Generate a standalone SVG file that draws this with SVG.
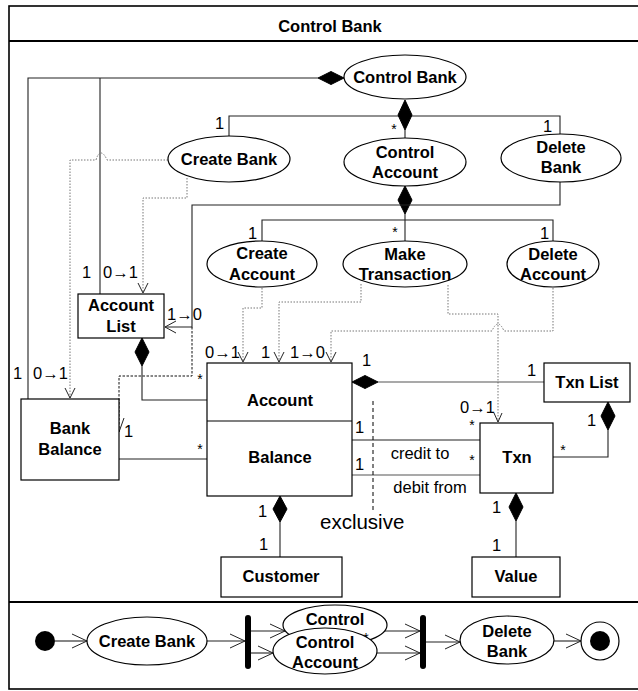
<svg xmlns="http://www.w3.org/2000/svg" width="638" height="691" viewBox="0 0 638 691">
<defs>
<style>
.b{font-family:"Liberation Sans",Arial,sans-serif;font-weight:bold;font-size:16.5px;text-anchor:middle;fill:#000}
.m{font-family:"Liberation Sans",Arial,sans-serif;font-size:16.5px;fill:#000}
.s{font-family:"Liberation Sans",Arial,sans-serif;font-size:14px;fill:#000;text-anchor:middle}
.n{fill:#fff;stroke:#000;stroke-width:1.2}
.ln{fill:none;stroke:#222;stroke-width:1.1}
.dt{fill:none;stroke:#777;stroke-width:1;stroke-dasharray:1.5,1.5}
.dk{fill:none;stroke:#111;stroke-width:1;stroke-dasharray:2.5,1.5}
.dia{fill:#000;stroke:#000;stroke-width:1}
.ah{fill:none;stroke:#222;stroke-width:1}
</style>
</defs>
<rect x="0" y="0" width="638" height="691" fill="#fff"/>
<g id="frame">
<rect x="9" y="6" width="640" height="683" fill="none" stroke="#000" stroke-width="1.6"/>
<line x1="9" y1="41" x2="638" y2="41" stroke="#000" stroke-width="2"/>
<line x1="9" y1="602" x2="638" y2="602" stroke="#000" stroke-width="2.2"/>
<text class="b" x="330" y="32">Control Bank</text>
</g>
<g id="connectors">
<polyline class="ln" points="318,78 28,78 28,399"/>
<line class="ln" x1="100" y1="78" x2="100" y2="294"/>
<polygon class="dia" points="318,78 331,71.5 344,78 331,84.5"/>
<polyline class="ln" points="229,136 229,116 560,116 560,135"/>
<line class="ln" x1="405" y1="130" x2="405" y2="139"/>
<polygon class="dia" points="405,100 412,115 405,130 398,115"/>
<polyline class="ln" points="262,241 262,220 553,220 553,241"/>
<line class="ln" x1="405" y1="214" x2="405" y2="241"/>
<polygon class="dia" points="405,186 412,200 405,214 398,200"/>
<polyline class="ln" points="560,182 560,205 192,205 192,327 165,327"/>
<polyline class="ah" points="176,321 165,327 176,333"/>
<polyline class="dk" points="192,327 192,376 119,376 119,432"/>
<polyline class="ah" points="114,418 119,432 124,418"/>
<path class="dt" d="M168,160 H107 Q104,153 101,153 Q98,153 96,160 H70 V398"/>
<polyline class="ah" points="65,388 70,398 75,388"/>
<polyline class="dt" points="187,178 187,198 143,198 143,293"/>
<polyline class="ah" points="138,283 143,293 148,283"/>
<polyline class="dt" points="262,288 262,308 243,308 243,362"/>
<polyline class="ah" points="238,352 243,362 248,352"/>
<polyline class="dt" points="361,284 361,302 279,302 279,362"/>
<polyline class="ah" points="274,352 279,362 284,352"/>
<polyline class="dt" points="448,285 448,314 498,314 498,422"/>
<polyline class="ah" points="494,413 498,422 502,413"/>
<path class="dt" d="M553,288 V331 H504 Q501,324 498,324 Q495,324 492,331 H331 V362"/>
<polyline class="ah" points="326,352 331,362 336,352"/>
<polyline class="ln" points="142,366 142,400 207,400"/>
<polygon class="dia" points="142,338 149,352 142,366 135,352"/>
<line class="ln" x1="119" y1="459" x2="207" y2="459"/>
<line x1="378" y1="382" x2="544" y2="382" stroke="#555" stroke-width="1.2"/>
<polygon class="dia" points="352,382 365,375.5 378,382 365,388.5"/>
<polyline class="ln" points="608,430 608,457 553,457"/>
<polygon class="dia" points="608,402 615,416 608,430 601,416"/>
<line class="ln" x1="352" y1="440" x2="480" y2="440"/>
<line x1="352" y1="475" x2="480" y2="475" stroke="#555" stroke-width="1.2"/>
<line x1="373" y1="401" x2="373" y2="512" stroke="#000" stroke-width="1" stroke-dasharray="4,3"/>
<line class="ln" x1="280" y1="522" x2="280" y2="557"/>
<polygon class="dia" points="280,496 287,509 280,522 273,509"/>
<line class="ln" x1="516" y1="521" x2="516" y2="557"/>
<polygon class="dia" points="516,493 523,507 516,521 509,507"/>
<line class="ln" x1="55" y1="641" x2="87" y2="641"/>
<polyline class="ah" points="72,634 87,641 72,648"/>
<line class="ln" x1="207" y1="641" x2="245" y2="641"/>
<polyline class="ah" points="230,634 245,641 230,648"/>
<line class="ln" x1="251" y1="631" x2="285" y2="631"/>
<polyline class="ah" points="270,624 285,631 270,638"/>
<line class="ln" x1="251" y1="653" x2="273" y2="653"/>
<polyline class="ah" points="258,646 273,653 258,660"/>
<line class="ln" x1="385" y1="631" x2="420" y2="631"/>
<polyline class="ah" points="405,624 420,631 405,638"/>
<line class="ln" x1="377" y1="653" x2="420" y2="653"/>
<polyline class="ah" points="405,646 420,653 405,660"/>
<line class="ln" x1="426" y1="642" x2="460" y2="642"/>
<polyline class="ah" points="445,635 460,642 445,649"/>
<line class="ln" x1="554" y1="641" x2="581" y2="641"/>
<polyline class="ah" points="566,634 581,641 566,648"/>
</g>
<g id="labels">
<text class="m" x="215" y="129">1</text>
<text class="s" x="394" y="134">*</text>
<text class="m" x="543" y="132">1</text>
<text class="m" x="248" y="239">1</text>
<text class="s" x="395" y="237">*</text>
<text class="m" x="540" y="239">1</text>
<text class="m" x="82" y="278">1</text>
<text class="m" x="103" y="278">0→1</text>
<text class="m" x="167" y="320">1→0</text>
<text class="m" x="13" y="379">1</text>
<text class="m" x="33" y="379">0→1</text>
<text class="m" x="124" y="437">1</text>
<text class="s" x="200" y="384">*</text>
<text class="s" x="200" y="454">*</text>
<text class="m" x="205" y="358">0→1</text>
<text class="m" x="261" y="358">1</text>
<text class="m" x="290" y="358">1→0</text>
<text class="m" x="362" y="366">1</text>
<text class="m" x="355" y="433">1</text>
<text class="m" x="355" y="470">1</text>
<text class="m" x="527" y="376">1</text>
<text class="m" x="460" y="413">0→1</text>
<text class="s" x="472" y="430">*</text>
<text class="s" x="472" y="465">*</text>
<text class="m" x="587" y="426">1</text>
<text class="s" x="563" y="455">*</text>
<text class="m" x="420" y="459" text-anchor="middle">credit to</text>
<text class="m" x="430" y="493" text-anchor="middle">debit from</text>
<text class="m" x="320" y="529" style="font-size:20.5px">exclusive</text>
<text class="m" x="258" y="517">1</text>
<text class="m" x="259" y="550">1</text>
<text class="m" x="492" y="513">1</text>
<text class="m" x="492" y="551">1</text>
</g>
<g id="node-control-bank"><ellipse class="n" cx="405" cy="77" rx="61" ry="22"/><text class="b" x="405" y="83">Control Bank</text></g>
<g id="node-create-bank"><ellipse class="n" cx="229" cy="159" rx="61" ry="23"/><text class="b" x="229" y="165">Create Bank</text></g>
<g id="node-control-account"><ellipse class="n" cx="405" cy="162" rx="61" ry="24"/><text class="b" x="405" y="158">Control</text><text class="b" x="405" y="178">Account</text></g>
<g id="node-delete-bank"><ellipse class="n" cx="561" cy="158" rx="60" ry="24"/><text class="b" x="561" y="153">Delete</text><text class="b" x="561" y="173">Bank</text></g>
<g id="node-create-account"><ellipse class="n" cx="262" cy="264" rx="55" ry="23"/><text class="b" x="262" y="259">Create</text><text class="b" x="262" y="280">Account</text></g>
<g id="node-make-transaction"><ellipse class="n" cx="405" cy="264" rx="62" ry="23"/><text class="b" x="405" y="260">Make</text><text class="b" x="405" y="280">Transaction</text></g>
<g id="node-delete-account"><ellipse class="n" cx="553" cy="264" rx="46" ry="23"/><text class="b" x="553" y="260">Delete</text><text class="b" x="553" y="280">Account</text></g>
<g id="node-account-list"><rect class="n" x="78" y="294" width="86" height="44"/><text class="b" x="121" y="311">Account</text><text class="b" x="121" y="332">List</text></g>
<g id="node-bank-balance"><rect class="n" x="21" y="399" width="98" height="81"/><text class="b" x="70" y="434">Bank</text><text class="b" x="70" y="455">Balance</text></g>
<g id="node-account"><rect class="n" x="207" y="363" width="145" height="133"/><line x1="207" y1="421" x2="352" y2="421" stroke="#000" stroke-width="1.2"/><text class="b" x="280" y="406">Account</text><text class="b" x="280" y="463">Balance</text></g>
<g id="node-txn-list"><rect class="n" x="544" y="363" width="86" height="39"/><text class="b" x="587" y="388">Txn List</text></g>
<g id="node-txn"><rect class="n" x="480" y="423" width="73" height="70"/><text class="b" x="517" y="463">Txn</text></g>
<g id="node-customer"><rect class="n" x="221" y="557" width="121" height="40"/><text class="b" x="281" y="582">Customer</text></g>
<g id="node-value"><rect class="n" x="472" y="557" width="88" height="40"/><text class="b" x="516" y="582">Value</text></g>
<g id="act-initial"><circle cx="45" cy="641" r="10" fill="#000"/></g>
<g id="act-create-bank"><ellipse class="n" cx="147" cy="641" rx="60" ry="24"/><text class="b" x="147" y="647">Create Bank</text></g>
<g id="act-fork"><rect x="245" y="615" width="6" height="54" rx="3" fill="#000"/></g>
<g id="act-control"><ellipse class="n" cx="335" cy="625" rx="52" ry="20"/><text class="b" x="335" y="625">Control</text><text class="s" x="366" y="643">*</text></g>
<g id="act-control-account"><ellipse class="n" cx="325" cy="651" rx="52" ry="23"/><text class="b" x="325" y="648">Control</text><text class="b" x="325" y="668">Account</text></g>
<g id="act-join"><rect x="420" y="615" width="6" height="54" rx="3" fill="#000"/></g>
<g id="act-delete-bank"><ellipse class="n" cx="507" cy="640" rx="47" ry="24"/><text class="b" x="507" y="637">Delete</text><text class="b" x="507" y="657">Bank</text></g>
<g id="act-final"><circle cx="600" cy="641" r="19" fill="#fff" stroke="#000" stroke-width="1.2"/><circle cx="600" cy="641" r="10" fill="#000"/></g>
</svg>
